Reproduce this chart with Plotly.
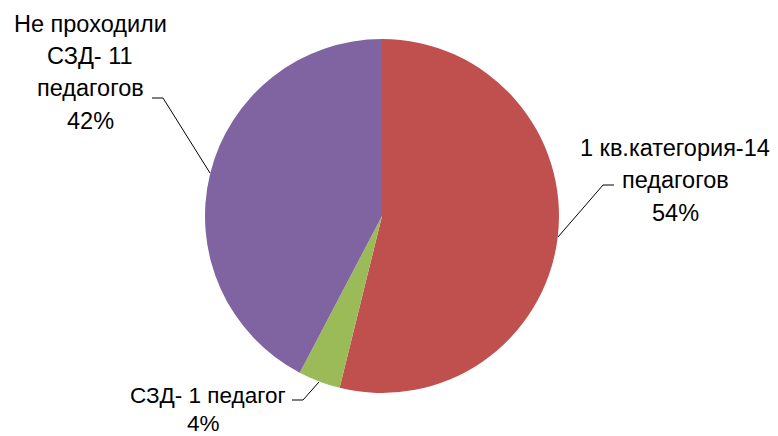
import plotly.graph_objects as go

# Data
categories = ["1 кв.категория-14 педагогов", "СЗД- 1 педагог", "Не проходили СЗД- 11 педагогов"]
values = [14, 1, 11]
colors = ["#C0504D", "#9BBB59", "#8064A2"]
label_lines = [
    ["1 кв.категория-14", "педагогов"],
    ["СЗД- 1 педагог"],
    ["Не проходили", "СЗД- 11", "педагогов"],
]

# page body has an 8px margin; figure pixels = reference pixels - 8
OFF = 8
W, H = 778 - OFF, 436 - OFF
total = sum(values)
pcts = [f"{round(v / total * 100)}%" for v in values]

def px(x):
    return (x - OFF) / W

def py(y):
    return 1 - (y - OFF) / H

fig = go.Figure(go.Pie(
    labels=categories,
    values=values,
    marker=dict(colors=colors, line=dict(width=0)),
    sort=False,
    direction="clockwise",
    rotation=0,
    textinfo="none",
    hoverinfo="label+percent",
    domain=dict(x=[px(382 - 177), px(382 + 177)], y=[py(393), py(39)]),
    showlegend=False,
))

FONT = dict(family="Liberation Sans, Arial, sans-serif", size=23.5, color="#000000")
FONT_SMALL = dict(family="Liberation Sans, Arial, sans-serif", size=22.5, color="#000000")

annotations = []
# Red label
lines0 = label_lines[0] + [pcts[0]]
for i, t in enumerate(lines0):
    annotations.append(dict(x=px(675), y=py(147.5 + 32.5 * i), text=t, showarrow=False,
                            xref="paper", yref="paper", xanchor="center", yanchor="middle", font=FONT))
# Purple label
lines2 = label_lines[2] + [pcts[2]]
for i, t in enumerate(lines2):
    annotations.append(dict(x=px(90), y=py(23.5 + 32.5 * i), text=t, showarrow=False,
                            xref="paper", yref="paper", xanchor="center", yanchor="middle", font=FONT))
# Green label
annotations.append(dict(x=px(288), y=py(395), text=label_lines[1][0], showarrow=False,
                        xref="paper", yref="paper", xanchor="right", yanchor="middle", font=FONT_SMALL))
annotations.append(dict(x=px(204), y=py(423), text=pcts[1], showarrow=False,
                        xref="paper", yref="paper", xanchor="center", yanchor="middle", font=FONT_SMALL))

def leader(pts):
    d = "M " + " L ".join(f"{px(x)},{py(y)}" for x, y in pts)
    return dict(type="path", path=d, xref="paper", yref="paper",
                line=dict(color="#000000", width=1))

shapes = [
    leader([(614, 185), (603, 185), (558, 237)]),
    leader([(152, 98), (163, 98), (210, 173)]),
    leader([(292, 400), (303, 400), (319, 382)]),
]

fig.update_layout(
    width=W, height=H,
    margin=dict(l=0, r=0, t=0, b=0),
    paper_bgcolor="white",
    plot_bgcolor="white",
    annotations=annotations,
    shapes=shapes,
)

fig.write_html("out.html")
